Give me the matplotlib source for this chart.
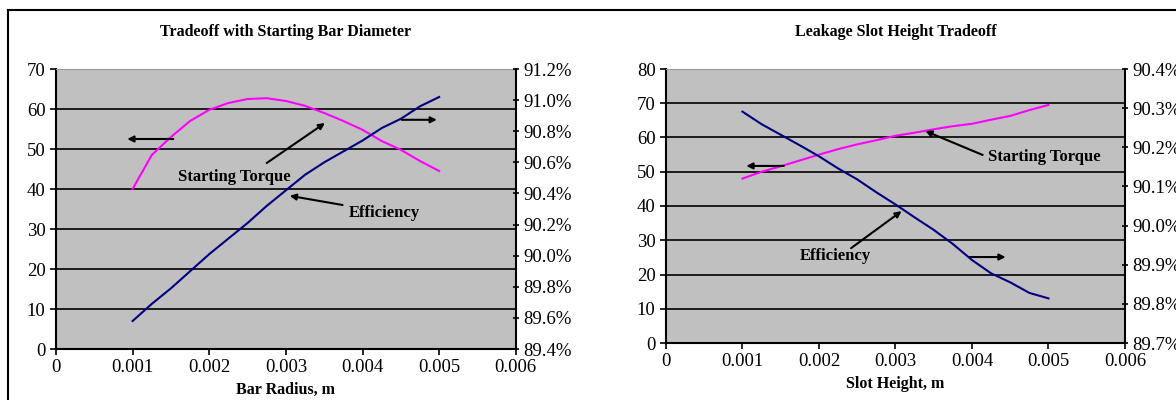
import matplotlib.pyplot as plt
from matplotlib.ticker import FuncFormatter

plt.rcParams['font.family'] = ['Liberation Serif', 'DejaVu Serif']

# bar radius sweep
bar_radius = [0.001, 0.00125, 0.0015, 0.00175, 0.002, 0.00225, 0.0025, 0.00275, 0.003,
              0.00325, 0.0035, 0.00375, 0.004, 0.00425, 0.0045, 0.00475, 0.005]
bar_torque = [40.0, 48.5, 53.0, 57.0, 59.8, 61.5, 62.5, 62.7, 62.0,
              60.8, 59.0, 57.0, 54.8, 52.0, 49.8, 47.0, 44.5]
bar_eff = [89.58, 89.69, 89.79, 89.90, 90.01, 90.11, 90.21, 90.32, 90.42,
           90.52, 90.60, 90.67, 90.74, 90.82, 90.88, 90.96, 91.02]

# slot height sweep
slot_height = [0.001, 0.00125, 0.0015, 0.00175, 0.002, 0.00225, 0.0025, 0.00275, 0.003,
               0.00325, 0.0035, 0.00375, 0.004, 0.00425, 0.0045, 0.00475, 0.005]
slot_torque = [48.0, 50.0, 51.6, 53.3, 55.0, 56.6, 58.0, 59.2, 60.5,
               61.4, 62.4, 63.3, 64.0, 65.2, 66.3, 68.0, 69.5]
slot_eff = [90.291, 90.259, 90.232, 90.205, 90.177, 90.146, 90.118, 90.085, 90.054,
            90.021, 89.989, 89.953, 89.912, 89.878, 89.855, 89.828, 89.814]

GRAY = '#c0c0c0'
PINK = '#ff00ff'
NAVY = '#000080'
TICK_FS = 13.5
TEXT_FS = 12


def pct(v, pos):
    return f'{v:.1f}%'


def arrow(ax, start, end):
    ax.annotate('', xy=end, xytext=start,
                arrowprops=dict(arrowstyle='-|>', color='black', lw=1.5,
                                mutation_scale=9, shrinkA=0, shrinkB=0))


def setup(ax, ax2, ymax, rmin, rmax, rstep, title, xlabel):
    ax.set_facecolor(GRAY)
    ax.set_xlim(0, 0.006)
    ax.set_ylim(0, ymax)
    ax.set_xticks([0, 0.001, 0.002, 0.003, 0.004, 0.005, 0.006])
    ax.set_xticklabels(['0', '0.001', '0.002', '0.003', '0.004', '0.005', '0.006'])
    ax.set_yticks(range(0, ymax + 1, 10))
    ax.yaxis.grid(True, color='black', lw=1.2)
    ax.set_axisbelow(True)
    ax.tick_params(labelsize=TICK_FS, length=4, width=1.2, direction='out')
    for s in ['left', 'bottom']:
        ax.spines[s].set_linewidth(1.5)
    ax.spines['top'].set_color('#999999')
    ax.spines['right'].set_visible(False)
    ax.set_title(title, fontsize=11.5, fontweight='bold', pad=24)
    ax.set_xlabel(xlabel, fontsize=11.5, fontweight='bold', labelpad=4)

    ax2.set_ylim(rmin, rmax)
    n = int(round((rmax - rmin) / rstep))
    ax2.set_yticks([rmin + i * rstep for i in range(n + 1)])
    ax2.yaxis.set_major_formatter(FuncFormatter(pct))
    ax2.tick_params(labelsize=TICK_FS, length=4, width=1.2, direction='inout')
    ax2.spines['right'].set_linewidth(1.5)
    for s in ['left', 'bottom', 'top']:
        ax2.spines[s].set_visible(False)


fig = plt.figure(figsize=(11.76, 4.0), dpi=100)

# left chart
ax1 = fig.add_axes([0.0476, 0.1275, 0.391, 0.70])
ax1r = ax1.twinx()
setup(ax1, ax1r, 70, 89.4, 91.2, 0.2, 'Tradeoff with Starting Bar Diameter', 'Bar Radius, m')
ax1.plot(bar_radius, bar_torque, color=PINK, lw=1.5)
ax1r.plot(bar_radius, bar_eff, color=NAVY, lw=1.5)
ax1.text(0.00233, 43, 'Starting Torque', ha='center', va='center', fontsize=TEXT_FS, fontweight='bold')
ax1.text(0.00429, 34, 'Efficiency', ha='center', va='center', fontsize=TEXT_FS, fontweight='bold')
arrow(ax1, (0.00275, 46.5), (0.00351, 56.5))
arrow(ax1, (0.00374, 36.0), (0.00305, 38.3))
arrow(ax1, (0.00153, 52.5), (0.00093, 52.5))
arrow(ax1, (0.00451, 57.3), (0.00497, 57.3))

# right chart
ax2 = fig.add_axes([0.5663, 0.1425, 0.3903, 0.685])
ax2r = ax2.twinx()
setup(ax2, ax2r, 80, 89.7, 90.4, 0.1, 'Leakage Slot Height Tradeoff', 'Slot Height, m')
ax2.plot(slot_height, slot_torque, color=PINK, lw=1.5)
ax2r.plot(slot_height, slot_eff, color=NAVY, lw=1.5)
ax2.text(0.00494, 54.3, 'Starting Torque', ha='center', va='center', fontsize=TEXT_FS, fontweight='bold')
ax2.text(0.00221, 25.4, 'Efficiency', ha='center', va='center', fontsize=TEXT_FS, fontweight='bold')
arrow(ax2, (0.00414, 54.9), (0.00339, 61.9))
arrow(ax2, (0.00242, 27.7), (0.00308, 38.5))
arrow(ax2, (0.00154, 51.7), (0.00105, 51.7))
arrow(ax2, (0.00397, 25.1), (0.00444, 25.1))

# page frame
fig.add_artist(plt.Line2D([0.007, 1.0], [0.975, 0.975], color='black', lw=1.5))
fig.add_artist(plt.Line2D([0.007, 0.007], [0.0, 0.975], color='black', lw=1.5))

fig.savefig('out.png', dpi=100)
